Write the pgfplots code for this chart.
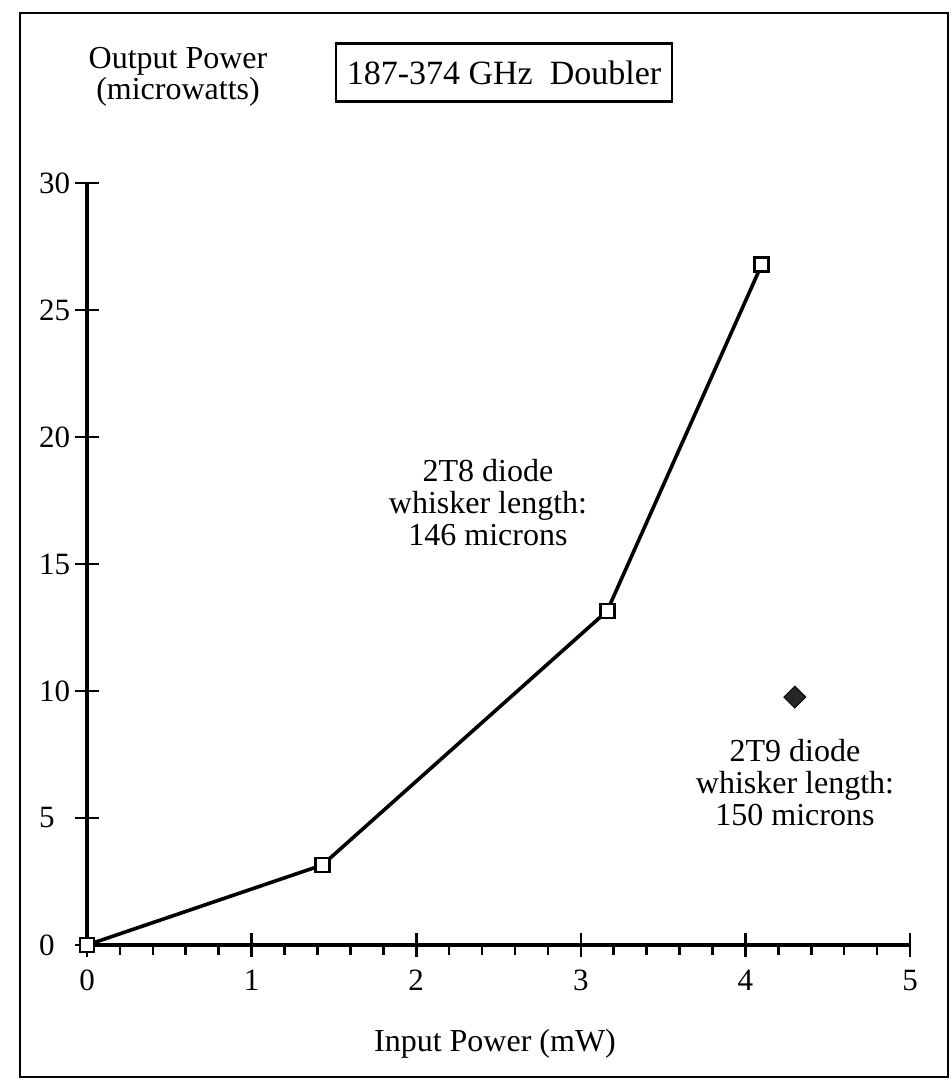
\documentclass[border=0pt]{standalone}
\usepackage{fontspec}
\setmainfont{Liberation Serif}
\usepackage{pgfplots}
\pgfplotsset{compat=1.18}
\begin{document}
\begin{tikzpicture}
\useasboundingbox (0,0) rectangle (476pt,543.5pt);
\draw[line width=1.3pt] (10pt,5pt) rectangle (474pt,537pt);
\begin{axis}[
  at={(43.5pt,71pt)}, anchor=south west,
  scale only axis, width=411.5pt, height=381pt,
  xmin=0, xmax=5, ymin=0, ymax=30,
  axis lines=left, axis line style={-, line width=1.6pt},
  xtick={0,1,2,3,4,5}, ytick={0,5,10,15,20,25,30},
  tick align=center, major tick length=12pt,
  tick style={line width=1.3pt, black},
  extra x ticks={0.2,0.4,0.6,0.8,1.2,1.4,1.6,1.8,2.2,2.4,2.6,2.8,3.2,3.4,3.6,3.8,4.2,4.4,4.6,4.8},
  extra x tick labels={},
  extra x tick style={tick align=outside, major tick length=5pt},
  tick label style={font=\fontsize{15.5}{18}\selectfont},
  /pgf/number format/assume math mode=true,
  yticklabel style={anchor=west, xshift=-21.5pt},
  xticklabel style={yshift=-3pt},
  clip=false,
]
\addplot[line width=1.8pt, black, mark=square*, mark options={fill=white, line width=1.4pt, solid}, mark size=3.5pt]
  coordinates {(0,0) (1.43,3.15) (3.16,13.15) (4.10,26.8)};
\addplot[only marks, mark=square*, mark size=3.9pt, mark options={rotate=45, fill=black!85, draw=black}]
  coordinates {(4.30,9.76)};
\end{axis}
\node[draw, line width=1.1pt, minimum width=168pt, minimum height=29pt, font=\fontsize{17}{20}\selectfont] at (252pt,507.25pt) {187-374 GHz\ \ Doubler};
\node[align=center, font=\fontsize{16}{15.5}\selectfont] at (89pt,505pt) {Output Power\\(microwatts)};
\node[font=\fontsize{16}{18}\selectfont] at (247.5pt,21.5pt) {Input Power (mW)};
\node[align=center, font=\fontsize{16}{16}\selectfont] at (244pt,292pt) {2T8 diode\\whisker length:\\146 microns};
\node[align=center, font=\fontsize{16}{16}\selectfont] at (397.5pt,152pt) {2T9 diode\\whisker length:\\150 microns};
\end{tikzpicture}
\end{document}
